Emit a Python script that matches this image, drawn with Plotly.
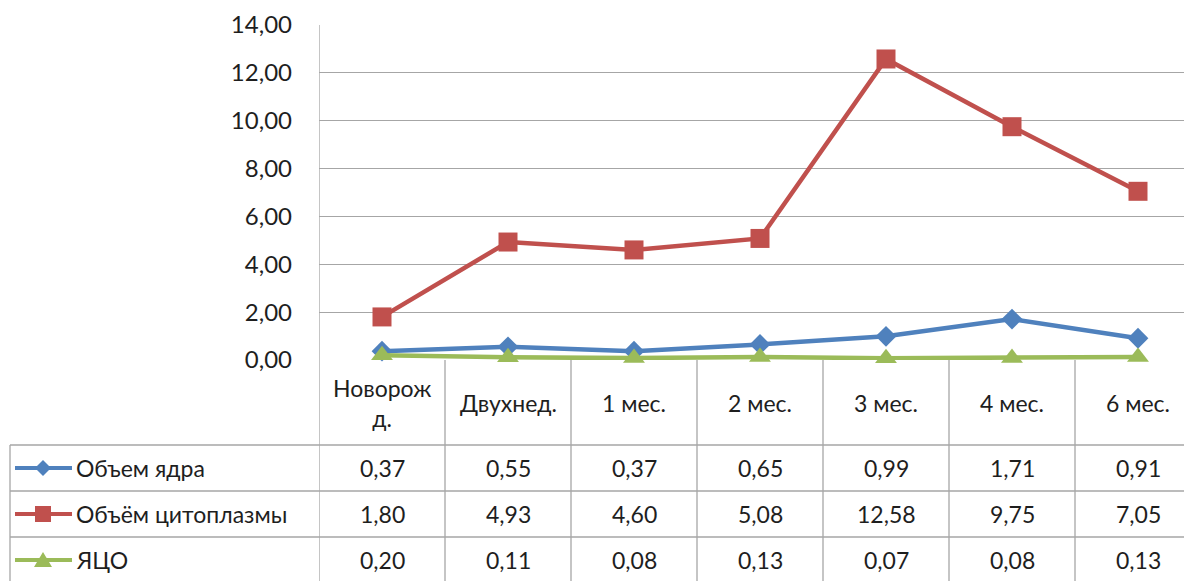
import plotly.graph_objects as go

categories = ["Новорож<br>д.", "Двухнед.", "1 мес.", "2 мес.", "3 мес.", "4 мес.", "6 мес."]
series_names = ["Объем ядра", "Объём цитоплазмы", "ЯЦО"]
nucleus = [0.37, 0.55, 0.37, 0.65, 0.99, 1.71, 0.91]
cytoplasm = [1.80, 4.93, 4.60, 5.08, 12.58, 9.75, 7.05]
nco = [0.20, 0.11, 0.08, 0.13, 0.07, 0.08, 0.13]
y_ticks = [0, 2, 4, 6, 8, 10, 12, 14]

W, H = 1184, 581
L, T, B = 319, 25, 221
PW, PH = W - L, H - T - B
COLW = 126
FONT = "Lato"
TXT = "#1e1e1e"
GRID = "#a6a6a6"

def px(xp):
    return (xp - L) / PW

def py(yp):
    return (H - B - yp) / PH

series = [
    (series_names[0], nucleus, "#4F81BD", "diamond", 16),
    (series_names[1], cytoplasm, "#C0504D", "square", 19),
    (series_names[2], nco, "#9BBB59", "triangle-up", 19),
]

idx = list(range(len(categories)))
fig = go.Figure()
for name, vals, col, sym, sz in series:
    fig.add_trace(go.Scatter(
        x=idx, y=vals, name=name, mode="lines+markers",
        line=dict(color=col, width=4.5),
        marker=dict(symbol=sym, size=sz, color=col, line=dict(width=0)),
        cliponaxis=False, showlegend=False,
    ))

shapes = []
annotations = []
for i in range(1, len(categories)):
    shapes.append(dict(type="line", xref="x", yref="paper", x0=i - 0.5, x1=i - 0.5,
                       y0=0, y1=py(H + 5), line=dict(color=GRID, width=1.3)))
shapes.append(dict(type="line", xref="x", yref="paper", x0=-0.5, x1=-0.5,
                   y0=1, y1=py(H + 5), line=dict(color=GRID, width=1.3)))
shapes.append(dict(type="line", xref="paper", yref="paper", x0=px(10), x1=px(10),
                   y0=py(445), y1=py(H + 5), line=dict(color=GRID, width=1.3)))
for yl in [445, 491, 537]:
    shapes.append(dict(type="line", xref="paper", yref="paper", x0=px(10), x1=1.01,
                       y0=py(yl), y1=py(yl), line=dict(color=GRID, width=1.3)))

for i, c in enumerate(categories):
    annotations.append(dict(x=i, y=py(403), xref="x", yref="paper", text=c,
                            showarrow=False, font=dict(family=FONT, size=23, color=TXT),
                            xanchor="center", yanchor="middle"))

row_centers = [468, 514, 560]
for (name, vals, col, sym, sz), yc in zip(series, row_centers):
    shapes.append(dict(type="line", xref="paper", yref="paper", x0=px(15), x1=px(72),
                       y0=py(yc), y1=py(yc), line=dict(color=col, width=4)))
    cx, cy = 43, yc
    if sym == "diamond":
        path = f"M {px(cx-8)} {py(cy)} L {px(cx)} {py(cy-8)} L {px(cx+8)} {py(cy)} L {px(cx)} {py(cy+8)} Z"
    elif sym == "square":
        path = f"M {px(cx-8)} {py(cy-8)} L {px(cx+8)} {py(cy-8)} L {px(cx+8)} {py(cy+8)} L {px(cx-8)} {py(cy+8)} Z"
    else:
        path = f"M {px(cx-9)} {py(cy+7)} L {px(cx)} {py(cy-8)} L {px(cx+9)} {py(cy+7)} Z"
    shapes.append(dict(type="path", xref="paper", yref="paper", path=path,
                       fillcolor=col, line=dict(width=0)))
    annotations.append(dict(x=px(74), y=py(yc), xref="paper", yref="paper", text=name,
                            showarrow=False, font=dict(family=FONT, size=23, color=TXT),
                            xanchor="left", yanchor="middle"))
    for i, v in enumerate(vals):
        annotations.append(dict(x=i, y=py(yc), xref="x", yref="paper",
                                text=f"{v:.2f}".replace(".", ","),
                                showarrow=False, font=dict(family=FONT, size=23, color=TXT),
                                xanchor="center", yanchor="middle"))

fig.update_layout(
    width=W, height=H,
    margin=dict(l=L, r=0, t=T, b=B),
    paper_bgcolor="white", plot_bgcolor="white",
    separators=", ",
    xaxis=dict(range=[-0.5, -0.5 + PW / COLW], showticklabels=False, showgrid=False,
               zeroline=False, showline=False, ticks=""),
    yaxis=dict(range=[0, 14], tickvals=y_ticks, tickformat=".2f", showgrid=True,
               gridcolor=GRID, gridwidth=1.3, zeroline=False, showline=False,
               ticks="", ticklabelstandoff=26,
               tickfont=dict(family=FONT, size=24, color=TXT)),
    shapes=shapes, annotations=annotations,
)
fig.write_html("out.html")
